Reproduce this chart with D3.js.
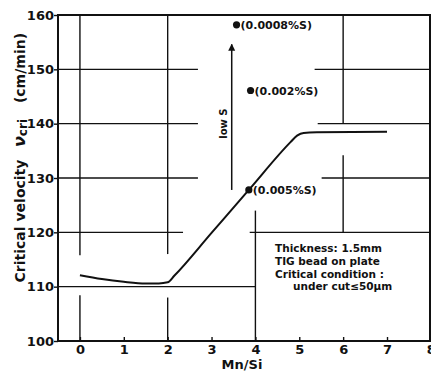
<!DOCTYPE html>
<html>
<head>
<meta charset="utf-8">
<script src="https://d3js.org/d3.v7.min.js"></script>
<style>
body { margin: 0; background: #fff; }
text { font-family: "DejaVu Sans", sans-serif; font-weight: bold; fill: #111; }
</style>
</head>
<body>
<script>

// values
var xTicks = [0, 1, 2, 3, 4, 5, 6, 7, 8];
var yTicks = [100, 110, 120, 130, 140, 150, 160];

// Mn/Si vs critical velocity curve
var curveX = [0, 0.5, 1.0, 1.5, 1.8, 2.0, 2.15, 3.0, 3.85, 4.8, 4.95, 5.1, 5.4, 7.0];
var curveY = [112.1, 111.4, 110.9, 110.6, 110.6, 110.8, 112.0, 119.9, 127.8, 136.6, 137.8, 138.3, 138.4, 138.5];

// low S points
var pointX = [3.57, 3.89, 3.85];
var pointY = [158.2, 146.1, 127.8];
var pointLabels = ["(0.0008%S)", "(0.002%S)", "(0.005%S)"];

// broken grid lines of the original: [x1, x2, y] and [x, y1, y2]
var hGrid = [[-0.5, 2.69, 150], [5.35, 8, 150], [-0.5, 2.69, 140], [5.42, 8, 140],
             [-0.5, 2.69, 130], [5.51, 8, 130], [-0.5, 2.35, 120], [3.87, 8, 120],
             [-0.5, 4, 110]];
var vGrid = [[0, 115.8, 160], [0, 100, 108.4], [2, 116, 160], [2, 100, 108],
             [4, 100, 124], [6, 140, 160], [6, 120, 134.2]];

var noteLines = ["Thickness: 1.5mm", "TIG bead on plate", "Critical condition :", "under cut\u226450\u00b5m"];

var w = 431, h = 374;

var x = d3.scaleLinear().domain([-0.5, 7.98]).range([58, 430]);
var y = d3.scaleLinear().domain([100, 160]).range([341, 15]);

var svg = d3.select("body")
    .append("svg")
    .attr("width", w)
    .attr("height", h);

// grid
svg.selectAll("line.hg")
   .data(hGrid)
   .enter()
   .append("line")
   .attr("x1", function(d) { return x(Math.max(d[0], -0.5)); })
   .attr("x2", function(d) { return x(Math.min(d[1], 7.98)); })
   .attr("y1", function(d) { return y(d[2]); })
   .attr("y2", function(d) { return y(d[2]); })
   .attr("stroke", "#111")
   .attr("stroke-width", 1.4);

svg.selectAll("line.vg")
   .data(vGrid)
   .enter()
   .append("line")
   .attr("x1", function(d) { return x(d[0]); })
   .attr("x2", function(d) { return x(d[0]); })
   .attr("y1", function(d) { return y(d[1]); })
   .attr("y2", function(d) { return y(d[2]); })
   .attr("stroke", "#111")
   .attr("stroke-width", 1.4);

// frame
svg.append("rect")
   .attr("x", x(-0.5))
   .attr("y", y(160))
   .attr("width", x(7.98) - x(-0.5))
   .attr("height", y(100) - y(160))
   .attr("fill", "none")
   .attr("stroke", "#111")
   .attr("stroke-width", 2);

// axes
var yAxis = d3.axisLeft(y).tickValues(yTicks).tickSize(4).tickPadding(0);
var gy = svg.append("g").attr("transform", "translate(" + x(-0.5) + ",0)").call(yAxis);
gy.select(".domain").remove();
gy.selectAll("line").attr("stroke", "#111").attr("stroke-width", 1.4);
gy.selectAll("text").attr("font-size", 13).attr("font-family", "DejaVu Sans").attr("font-weight", "bold").attr("fill", "#111");

var xAxis = d3.axisBottom(x).tickValues(xTicks).tickSize(-4).tickPadding(4);
var gx = svg.append("g").attr("transform", "translate(0," + y(100) + ")").call(xAxis);
gx.select(".domain").remove();
gx.selectAll("line").attr("stroke", "#111").attr("stroke-width", 1.4);
gx.selectAll("text").attr("font-size", 13).attr("font-family", "DejaVu Sans").attr("font-weight", "bold").attr("fill", "#111");

svg.append("text")
   .attr("x", 242)
   .attr("y", 369)
   .attr("text-anchor", "middle")
   .attr("font-size", 13)
   .text("Mn/Si");

// y title in three pieces
function ytitle(cy, fn) {
    var t = svg.append("text")
       .attr("transform", "translate(25," + cy + ") rotate(-90)")
       .attr("text-anchor", "middle")
       .attr("font-size", 14);
    fn(t);
}
ytitle(221, function(t) { t.text("Critical velocity"); });
ytitle(133, function(t) {
    t.append("tspan").attr("font-size", 16).attr("font-style", "italic").text("\u03bd");
    t.append("tspan").attr("font-size", 12).attr("dy", 2).text("cri");
});
ytitle(68, function(t) { t.text("(cm/min)"); });

// curve
var line = d3.line()
    .x(function(d) { return x(d[0]); })
    .y(function(d) { return y(d[1]); })
    .curve(d3.curveMonotoneX);

svg.append("path")
   .datum(d3.zip(curveX, curveY))
   .attr("d", line)
   .attr("fill", "none")
   .attr("stroke", "#111")
   .attr("stroke-width", 2);

// arrow (low S)
svg.append("defs").append("marker")
   .attr("id", "arr")
   .attr("viewBox", "0 0 10 10")
   .attr("refX", 9).attr("refY", 5)
   .attr("markerWidth", 7).attr("markerHeight", 9)
   .attr("markerUnits", "userSpaceOnUse")
   .attr("orient", "auto")
   .append("path")
   .attr("d", "M0,0 L10,5 L0,10 Z")
   .attr("fill", "#111");

svg.append("line")
   .attr("x1", x(3.46)).attr("x2", x(3.46))
   .attr("y1", y(127.8)).attr("y2", y(154.6))
   .attr("stroke", "#111")
   .attr("stroke-width", 1.5)
   .attr("marker-end", "url(#arr)");

svg.append("text")
   .attr("transform", "translate(" + (x(3.46) - 5) + "," + y(140) + ") rotate(-90)")
   .attr("text-anchor", "middle")
   .attr("font-size", 10)
   .attr("font-weight", "normal")
   .text("low S");

// points
svg.selectAll("circle")
   .data(d3.zip(pointX, pointY))
   .enter()
   .append("circle")
   .attr("cx", function(d) { return x(d[0]); })
   .attr("cy", function(d) { return y(d[1]); })
   .attr("r", 3.6)
   .attr("fill", "#111");

svg.selectAll("text.pl")
   .data(d3.zip(pointX, pointY, pointLabels))
   .enter()
   .append("text")
   .attr("x", function(d) { return x(d[0]) + 4; })
   .attr("y", function(d) { return y(d[1]) + 4; })
   .attr("font-size", 11)
   .text(function(d) { return d[2]; });

// note
svg.selectAll("text.note")
   .data(noteLines)
   .enter()
   .append("text")
   .attr("x", function(d, i) { return i == 3 ? 293 : 275; })
   .attr("y", function(d, i) { return 252 + i * 12.8; })
   .attr("font-size", 10.5)
   .text(function(d) { return d; });

</script>
</body>
</html>
